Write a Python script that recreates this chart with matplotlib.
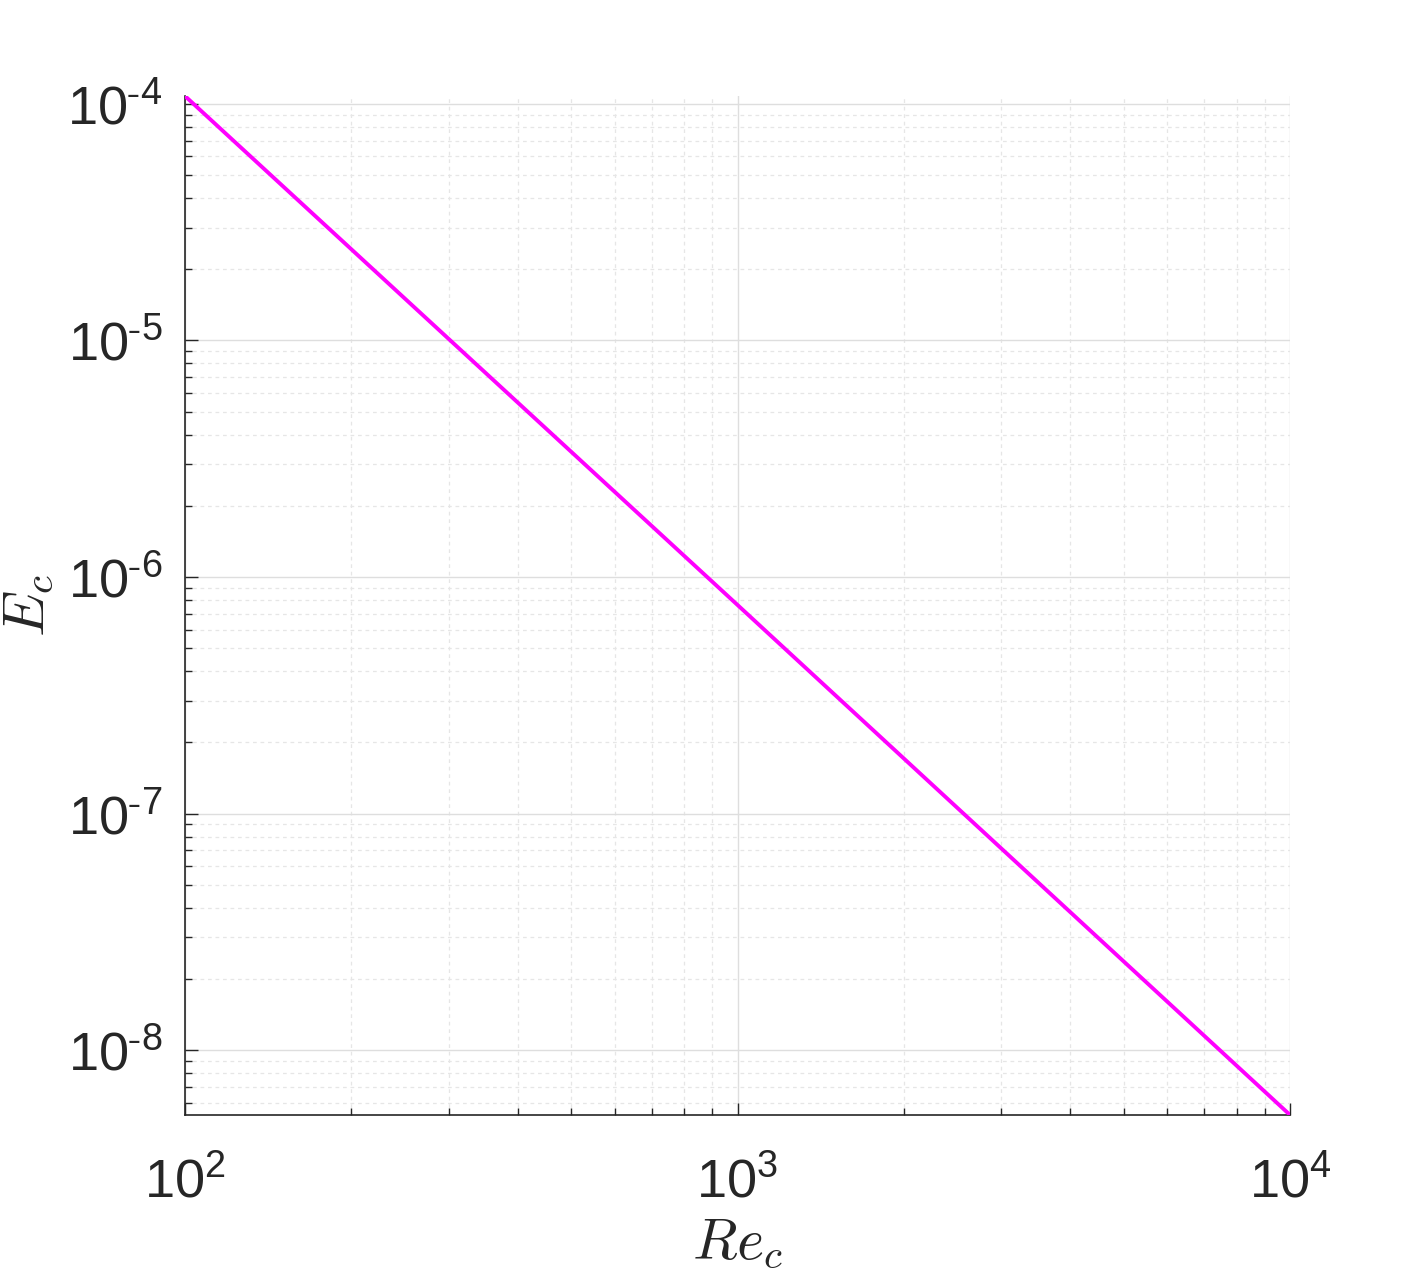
import numpy as np
import matplotlib.pyplot as plt
from matplotlib.ticker import LogLocator, NullFormatter, FuncFormatter

plt.rcParams['font.family'] = ['Liberation Sans', 'DejaVu Sans']
plt.rcParams['mathtext.fontset'] = 'cm'
plt.rcParams['axes.unicode_minus'] = False

# values
re_c = np.array([1e2, 1e3, 1e4])
e_c = np.array([1.08e-4, 7.62e-7, 5.32e-9])


def pow10(v, pos):
    e = int(round(np.log10(v)))
    s = str(abs(e))
    if e < 0:
        s = r'\text{-}' + s
    return r'$\mathregular{10^{%s}}$' % s


fig = plt.figure(figsize=(14.25, 12.75), dpi=100)
ax = fig.add_axes([0.1298, 0.1255, 0.7755, 0.7992])

ax.loglog(re_c, e_c, color='#ff00ff', lw=2.8, solid_capstyle='butt', zorder=3)

ax.set_xlim(re_c[0], re_c[-1])
ax.set_ylim(e_c[-1], e_c[0])

ax.xaxis.set_major_locator(LogLocator(base=10, numticks=10))
ax.yaxis.set_major_locator(LogLocator(base=10, numticks=10))
ax.xaxis.set_minor_locator(LogLocator(base=10, subs=np.arange(2, 10), numticks=50))
ax.yaxis.set_minor_locator(LogLocator(base=10, subs=np.arange(2, 10), numticks=50))
ax.xaxis.set_major_formatter(FuncFormatter(pow10))
ax.yaxis.set_major_formatter(FuncFormatter(pow10))
ax.xaxis.set_minor_formatter(NullFormatter())
ax.yaxis.set_minor_formatter(NullFormatter())

ax.grid(True, which='major', color='#dedede', lw=1.0, ls='-')
ax.grid(True, which='minor', color='#e6e6e6', lw=0.9, ls=(0, (3, 3)))
ax.set_axisbelow(True)

for s in ['top', 'right']:
    ax.spines[s].set_visible(False)
for s in ['left', 'bottom']:
    ax.spines[s].set_color('#262626')
    ax.spines[s].set_linewidth(1.2)

ax.tick_params(which='major', direction='in', length=9, width=1.0, color='#262626',
               labelsize=39, labelcolor='#262626')
ax.tick_params(which='minor', direction='in', length=5, width=1.0, color='#262626')
ax.tick_params(axis='x', which='major', pad=30)
ax.tick_params(axis='y', which='major', pad=16)

ax.set_xlabel(r'$Re_c$', fontsize=42, color='#262626', labelpad=6)
ax.set_ylabel(r'$E_c$', fontsize=42, color='#262626', labelpad=8)

fig.savefig('out.png', dpi=100)
